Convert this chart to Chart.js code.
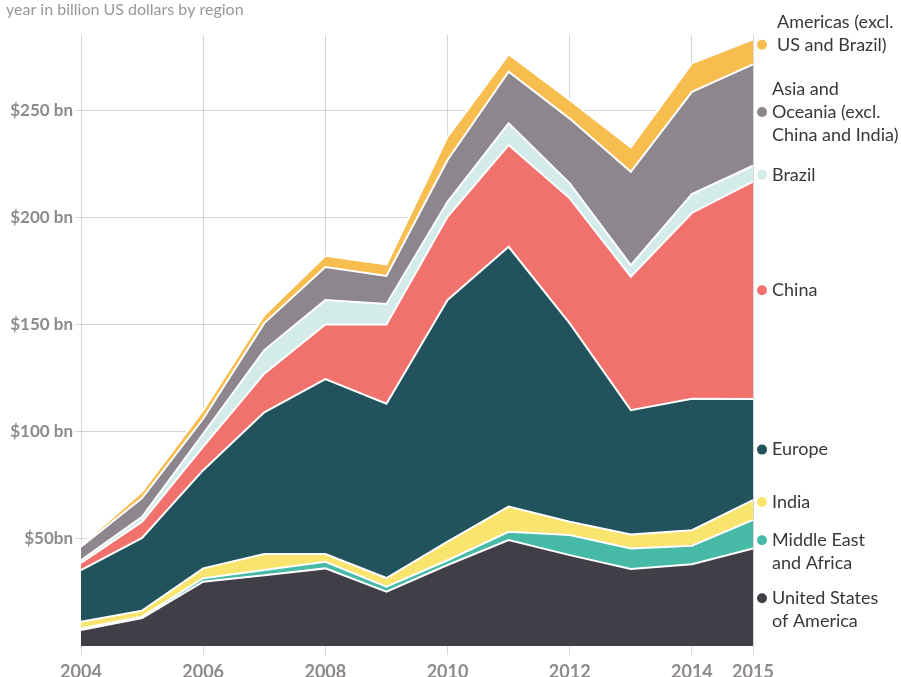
<!DOCTYPE html>
<html>
<head>
<meta charset="utf-8">
<script src="https://cdn.jsdelivr.net/npm/chart.js@4"></script>
<style>
    html, body { margin: 0; padding: 0; background: #fff; }
    #wrap { position: relative; width: 901px; height: 677px; }
</style>
</head>
<body>
<div id="wrap"><canvas id="chart" width="901" height="677"></canvas></div>
<script>
// years on the x axis
const years = [2004, 2005, 2006, 2007, 2008, 2009, 2010, 2011, 2012, 2013, 2014, 2015];
const yearTicks = [2004, 2006, 2008, 2010, 2012, 2014, 2015];
const valueTicks = [50, 100, 150, 200, 250];
const valueTickLabels = ['$50bn', '$100 bn', '$150 bn', '$200 bn', '$250 bn'];

// billion US dollars per region (stacked bottom to top)
const usa      = [7.5, 13.0, 30.0, 33.0, 36.2, 25.3, 37.8, 49.4, 42.4, 35.9, 38.1, 45.5];
const meAfrica = [0.7, 0.7, 1.6, 2.4, 3.1, 2.4, 2.2, 3.9, 9.4, 9.6, 8.7, 13.3];
const india    = [3.1, 2.8, 4.6, 7.5, 3.6, 4.0, 8.7, 11.7, 6.2, 6.5, 7.2, 9.2];
const europe   = [24.1, 33.9, 45.8, 66.1, 81.6, 81.3, 112.7, 121.2, 92.5, 58.0, 61.3, 47.2];
const china    = [3.3, 7.6, 11.0, 18.0, 25.5, 37.0, 38.8, 47.5, 58.3, 62.3, 86.7, 101.4];
const brazil   = [1.3, 2.3, 6.0, 11.0, 11.4, 9.5, 7.0, 10.1, 7.0, 5.4, 8.8, 7.4];
const asiaOce  = [6.3, 8.7, 7.0, 12.6, 15.4, 13.1, 19.5, 24.1, 30.2, 43.5, 47.7, 47.3];
const americas = [0.7, 3.0, 4.0, 3.8, 5.2, 5.4, 10.8, 8.1, 8.7, 11.4, 13.3, 11.7];

const series = [
    { name: ['United States', 'of America'], data: usa, color: '#413e48', anchor: 0, dy: 1 },
    { name: ['Middle East', 'and Africa'], data: meAfrica, color: '#47b9a7', anchor: 0, dy: 6 },
    { name: ['India'], data: india, color: '#f9e46e', anchor: 0, dy: -8 },
    { name: ['Europe'], data: europe, color: '#22535c', anchor: 0, dy: 0 },
    { name: ['China'], data: china, color: '#f1726d', anchor: 0, dy: 0 },
    { name: ['Brazil'], data: brazil, color: '#d3ecea', anchor: 0, dy: 1 },
    { name: ['Asia and', 'Oceania (excl.', 'China and India)'], data: asiaOce, color: '#8d878d', anchor: 1, dy: -3, tx: 0 },
    { name: ['Americas (excl.', 'US and Brazil)'], data: americas, color: '#f8bd4f', anchor: 1, dy: -7, tx: 5 }
];

const gridColor = 'rgba(150, 150, 150, 0.38)';
const tickColor = '#8e898d';

// labels at the right end of each band
const endLabels = {
    id: 'endLabels',
    afterDraw(chart) {
        const ctx = chart.ctx;
        const y = chart.scales.y;
        const x = chart.scales.x;
        const last = years.length - 1;
        const px = x.getPixelForValue(last);
        let base = 0;
        ctx.save();
        ctx.font = '18px Lato, "Open Sans", sans-serif';
        ctx.textBaseline = 'middle';
        ctx.textAlign = 'left';
        series.forEach(s => {
            const v = s.data[last];
            const mid = y.getPixelForValue(base + v / 2) + s.dy;
            base += v;
            ctx.fillStyle = s.color;
            ctx.beginPath();
            ctx.arc(px + 9, mid, 5, 0, Math.PI * 2);
            ctx.fill();
            ctx.fillStyle = '#38383a';
            s.name.forEach((line, i) => {
                ctx.fillText(line, px + 19 + (s.tx || 0), mid + (i - s.anchor) * 23);
            });
        });
        // subtitle
        ctx.font = '16px Lato, "Open Sans", sans-serif';
        ctx.fillStyle = '#9b969a';
        ctx.fillText('year in billion US dollars by region', 6, 10);
        ctx.restore();
    }
};

const datasets = series.map((s, i) => ({
    label: s.name.join(' '),
    data: s.data,
    backgroundColor: s.color,
    borderColor: '#ffffff',
    borderWidth: 2,
    pointRadius: 0,
    tension: 0,
    fill: i === 0 ? 'origin' : '-1'
}));

new Chart(document.getElementById('chart'), {
    type: 'line',
    data: { labels: years, datasets: datasets },
    options: {
        responsive: false,
        animation: false,
        layout: { padding: { left: 0, right: 148, top: 35, bottom: 0 } },
        plugins: {
            legend: { display: false },
            tooltip: { enabled: false }
        },
        scales: {
            x: {
                type: 'category',
                offset: false,
                z: 1,
                border: { display: false },
                grid: {
                    color: c => yearTicks.includes(years[c.index]) ? gridColor : 'transparent',
                    tickLength: 9,
                    lineWidth: 1
                },
                ticks: {
                    autoSkip: false,
                    maxRotation: 0,
                    padding: 6,
                    color: tickColor,
                    font: { family: 'Lato, "Open Sans", sans-serif', size: 18, weight: 'bold' },
                    callback: (val, idx) => yearTicks.includes(years[idx]) ? String(years[idx]) : ''
                },
                afterFit: scale => { scale.height = 31; }
            },
            y: {
                stacked: true,
                min: 0,
                max: 285,
                z: 1,
                border: { display: false },
                grid: { color: gridColor, tickLength: 6, lineWidth: 1 },
                afterBuildTicks: scale => { scale.ticks = valueTicks.map(v => ({ value: v })); },
                ticks: {
                    padding: 2,
                    color: tickColor,
                    font: { family: 'Lato, "Open Sans", sans-serif', size: 17, weight: 'bold' },
                    callback: val => valueTickLabels[valueTicks.indexOf(val)]
                },
                afterFit: scale => { scale.width = 81; }
            }
        }
    },
    plugins: [endLabels]
});
</script>
</body>
</html>
